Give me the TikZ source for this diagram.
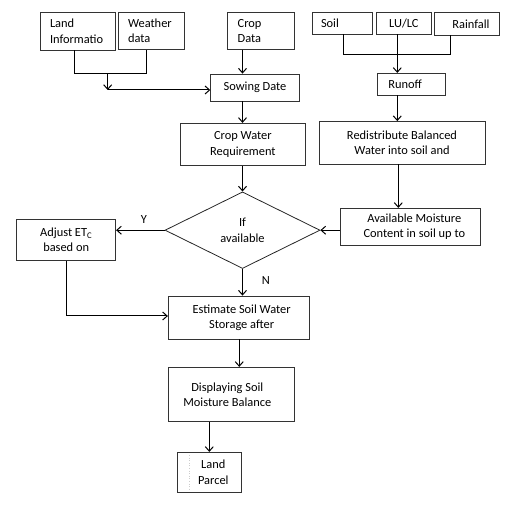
\documentclass[tikz,border=0pt]{standalone}
\usepackage{fontspec}
\setmainfont{Carlito}
\usetikzlibrary{arrows.meta,shapes.geometric}
\begin{document}
\begin{tikzpicture}[x=1pt,y=-1pt,
  every node/.style={font=\fontsize{12.4}{15.3}\selectfont},
  box/.style={draw=black!80,line width=0.8pt,rectangle,inner sep=0pt,align=center},
  lbox/.style={box,align=left},
  arr/.style={line width=1pt,-{Straight Barb[length=4.5pt,width=8pt]}},
  conn/.style={line width=1pt},
  lab/.style={inner sep=0pt}]
\useasboundingbox (0,0) rectangle (520,505);
% top left
\node[lbox,inner xsep=9.3pt,text width=56.4pt,minimum height=37.3pt] (land) at (78.2,31.35) {Land\\Informatio};
\node[lbox,inner xsep=10pt,text width=46pt,minimum height=36.6pt] (weather) at (151,31) {Weather\\data};
\node[lbox,inner xsep=10pt,text width=46.3pt,minimum height=36.6pt] (crop) at (260.85,31) {Crop\\Data};
\node[box,minimum width=88.6pt,minimum height=27pt] (sow) at (255,87.5) {Sowing Date};
\node[box,minimum width=125.7pt,minimum height=42.4pt] (cwr) at (242.85,144.5) {Crop Water\\Requirement};
% top right
\node[lbox,inner xsep=8.7pt,text width=42.6pt,minimum height=21.3pt] (soil) at (342.3,23.35) {Soil};
\node[box,minimum width=54.3pt,minimum height=21.3pt] (lulc) at (403.85,23.35) {LU/LC};
\node[box,minimum width=64.6pt,minimum height=22.3pt] (rain) at (467,23.85) {\hspace*{8pt}Rainfall};
\node[lbox,inner xsep=11pt,text width=46pt,minimum height=21.7pt] (run) at (411.3,84.15) {Runoff};
\node[box,minimum width=166pt,minimum height=42.5pt] (red) at (402,142.75) {Redistribute Balanced\\Water into soil and};
\node[box,minimum width=140.7pt,minimum height=37.4pt] (avail) at (410.35,227) {\hspace*{8pt}Available Moisture\\\hspace*{8pt}Content in soil up to};
% decision
\node[draw=black!85,line width=0.8pt,diamond,shape aspect=2,minimum width=155pt,minimum height=76.6pt,inner sep=0pt,align=center] (dia) at (242.5,230.2) {If\\available};
\node[box,minimum width=99pt,minimum height=41.4pt] (adj) at (66.2,240) {Adjust ET\textsubscript{C}\\based on};
\node[box,minimum width=140.7pt,minimum height=43pt] (est) at (238.65,317.5) {\hspace*{6pt}Estimate Soil Water\\\hspace*{6pt}Storage after};
\node[box,minimum width=126pt,minimum height=54.4pt] (disp) at (231.3,394.5) {Displaying Soil\hspace*{8pt}\\Moisture Balance\hspace*{8pt}};
\node[box,minimum width=64pt,minimum height=40pt] (lp) at (209.3,472.3) {\hspace*{8pt}Land\\\hspace*{8pt}Parcel};
\draw[black!20,dotted,line width=0.6pt] ([xshift=12pt,yshift=-3pt]lp.north west) -- ([xshift=12pt,yshift=3pt]lp.south west);
% labels
\node[lab] (ylab) at (144,219.3) {Y};
\node[lab] (nlab) at (266,281) {N};
% helper coordinates
\coordinate (la) at (74,74);
\coordinate (wb) at (146.7,74);
\coordinate (j1) at (107.7,74);
\coordinate (j2) at (107.7,90);
\coordinate (rj1) at (343.3,55);
\coordinate (rj2) at (450.7,55);
\coordinate (rx) at (397.3,55);
\coordinate (rx2) at (398.3,164);
% connectors left
\draw[conn] (land.south -| la) |- (wb) -- (weather.south -| wb);
\draw[arr] (j1) -- (j2);
\draw[arr] (j2) -- (sow.west |- j2);
\draw[arr] (crop.south -| dia.north) -- (sow.north -| dia.north);
\draw[arr] (sow.south -| dia.north) -- (cwr.south |- cwr.north -| dia.north);
\draw[arr] (cwr.south -| dia.north) -- (dia.north);
\draw[arr] (dia.west) -- (dia.west -| adj.east);
\draw[arr] (adj.south) |- ([yshift=1.5pt]est.west);
\draw[arr] (dia.south) -- (est.north -| dia.south);
\draw[arr] ([xshift=0.6pt]est.south) -- ([xshift=0.6pt]est.south |- disp.north);
\draw[arr] (lp.north |- disp.south) -- (lp.north);
% connectors right
\draw[conn] (soil.south -| rj1) |- (rj2) -- (rain.south -| rj2);
\draw[arr] (lulc.south -| rx) -- (run.north -| rx);
\draw[arr] (run.south -| rx) -- (red.north -| rx);
\draw[arr] (red.south -| rx2) -- (avail.north -| rx2);
\draw[arr] (avail.west |- dia.east) -- (dia.east);
\end{tikzpicture}
\end{document}
